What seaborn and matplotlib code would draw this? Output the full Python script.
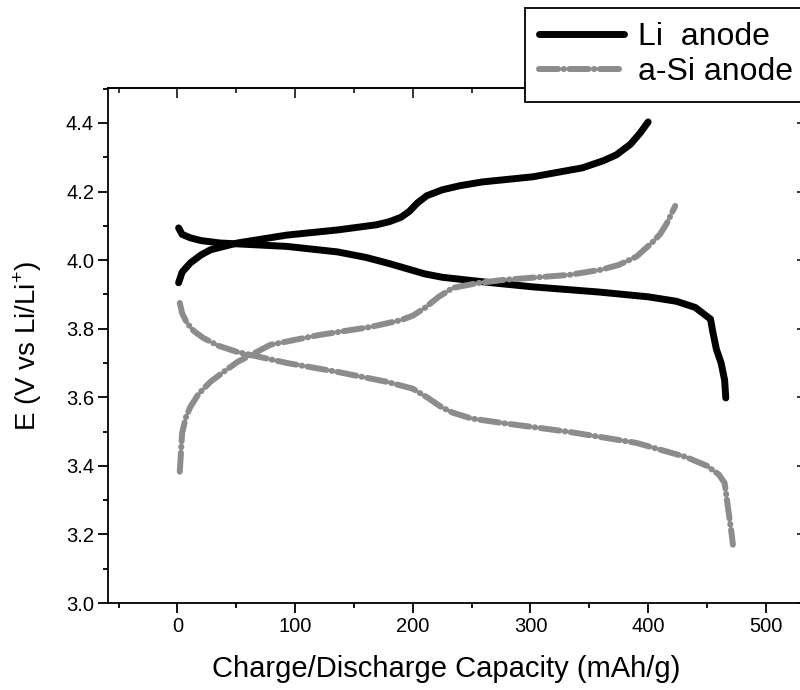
import numpy as np
import pandas as pd
import matplotlib
matplotlib.use("Agg")
import matplotlib.pyplot as plt
import seaborn as sns

# ---- data ----
li_charge_cap = [1, 4, 11, 20, 28, 51, 93, 136, 169, 180, 190, 197, 204, 212, 225, 240, 259, 302, 344, 362, 373, 385, 393, 400]
li_charge_e   = [3.934, 3.965, 3.992, 4.015, 4.030, 4.050, 4.073, 4.088, 4.103, 4.112, 4.125, 4.142, 4.167, 4.188, 4.205, 4.217, 4.228, 4.243, 4.269, 4.290, 4.307, 4.338, 4.370, 4.403]

li_dis_cap = [1, 4, 11, 20, 36, 93, 136, 160, 180, 195, 210, 225, 246, 270, 302, 358, 400, 424, 440, 453, 455, 458, 462, 465, 466]
li_dis_e   = [4.094, 4.075, 4.065, 4.057, 4.050, 4.040, 4.024, 4.008, 3.990, 3.975, 3.960, 3.950, 3.942, 3.933, 3.922, 3.907, 3.893, 3.880, 3.862, 3.828, 3.790, 3.740, 3.700, 3.650, 3.598]

si_charge_cap = [2, 3, 4, 7, 11, 18, 28, 40, 51, 79, 121, 164, 190, 200, 210, 222, 234, 255, 276, 333, 360, 375, 390, 403, 410, 416, 423]
si_charge_e   = [3.383, 3.440, 3.496, 3.540, 3.572, 3.610, 3.645, 3.676, 3.703, 3.753, 3.782, 3.805, 3.825, 3.838, 3.860, 3.893, 3.919, 3.933, 3.942, 3.957, 3.972, 3.986, 4.010, 4.050, 4.075, 4.108, 4.158]

si_dis_cap = [2, 4, 8, 14, 22, 35, 51, 93, 136, 178, 200, 213, 224, 234, 250, 276, 333, 390, 432, 450, 460, 465, 467, 469, 471, 472]
si_dis_e   = [3.875, 3.845, 3.817, 3.793, 3.773, 3.750, 3.732, 3.700, 3.674, 3.645, 3.625, 3.598, 3.572, 3.555, 3.538, 3.525, 3.499, 3.467, 3.426, 3.400, 3.375, 3.350, 3.300, 3.250, 3.200, 3.170]

x_ticks = [0, 100, 200, 300, 400, 500]
y_ticks = [3.0, 3.2, 3.4, 3.6, 3.8, 4.0, 4.2, 4.4]
x_minor = [-50, 50, 150, 250, 350, 450]
y_minor = [3.1, 3.3, 3.5, 3.7, 3.9, 4.1, 4.3, 4.5]

sns.set_theme(style="ticks")
plt.rcParams["font.family"] = ["Liberation Sans", "DejaVu Sans"]
plt.rcParams["mathtext.fontset"] = "custom"
plt.rcParams["mathtext.rm"] = "Liberation Sans"

fig = plt.figure(figsize=(8.0, 6.9), dpi=100)
ax = fig.add_axes([108 / 800, 1 - 603 / 690, (807 - 108) / 800, (603 - 88) / 690])

black_kw = dict(color="black", linewidth=5.0, solid_capstyle="round", solid_joinstyle="round")
gray_kw = dict(color="#8c8c8c", linewidth=4.3, dashes=(3.2, 0.9, 0.1, 0.9), dash_capstyle="round",
               dash_joinstyle="round")

sns.lineplot(x=li_charge_cap, y=li_charge_e, sort=False, estimator=None, ax=ax, label="Li  anode", **black_kw)
sns.lineplot(x=li_dis_cap, y=li_dis_e, sort=False, estimator=None, ax=ax, **black_kw)
sns.lineplot(x=si_charge_cap, y=si_charge_e, sort=False, estimator=None, ax=ax, label="a-Si anode", **gray_kw)
sns.lineplot(x=si_dis_cap, y=si_dis_e, sort=False, estimator=None, ax=ax, **gray_kw)

ax.set_xlim(-59, 535)
ax.set_ylim(3.0, 4.502)
ax.set_xticks(x_ticks)
ax.set_yticks(y_ticks)
ax.set_yticklabels([f"{v:.1f}" for v in y_ticks])
ax.set_xticks(x_minor, minor=True)
ax.set_yticks(y_minor, minor=True)

for s in ax.spines.values():
    s.set_linewidth(1.3)
    s.set_color("black")

ax.tick_params(axis="both", which="major", direction="out", length=7, width=1.3,
               labelsize=14.5, colors="black", pad=3)
ax.tick_params(axis="both", which="minor", direction="out", length=3.5, width=1.3, colors="black")
ax2 = ax.secondary_xaxis("top")
ax2.set_xticks(x_ticks)
ax2.set_xticks(x_minor, minor=True)
ax2.tick_params(which="major", direction="in", length=7, width=1.3, labeltop=False)
ax2.tick_params(which="minor", direction="in", length=3.5, width=1.3)
ax2.spines["top"].set_linewidth(1.3)
ax3 = ax.secondary_yaxis("right")
ax3.set_yticks(y_ticks)
ax3.set_yticks(y_minor, minor=True)
ax3.tick_params(which="major", direction="in", length=7, width=1.3, labelright=False)
ax3.tick_params(which="minor", direction="in", length=3.5, width=1.3)
ax3.spines["right"].set_linewidth(1.3)

ax.set_xlabel("Charge/Discharge Capacity (mAh/g)", fontsize=21, color="black")
ax.set_ylabel(r"E (V vs Li/Li$^{+}$)", fontsize=20, color="black")
ax.xaxis.set_label_coords(0.484, -0.101)
ax.yaxis.set_label_coords(-0.092, 0.5)

leg = ax.legend(loc="upper left", bbox_to_anchor=(525 / 800, 1 - 8 / 690),
                bbox_transform=fig.transFigure, fontsize=23, frameon=True,
                fancybox=False, framealpha=1, edgecolor="black",
                handlelength=2.65, handletextpad=0.45, borderpad=0.45,
                labelspacing=0.15, borderaxespad=0)
leg.get_frame().set_linewidth(1.3)
leg.set_zorder(10)
for t in leg.get_texts():
    t.set_color("black")

fig.savefig("out.png", dpi=100)
